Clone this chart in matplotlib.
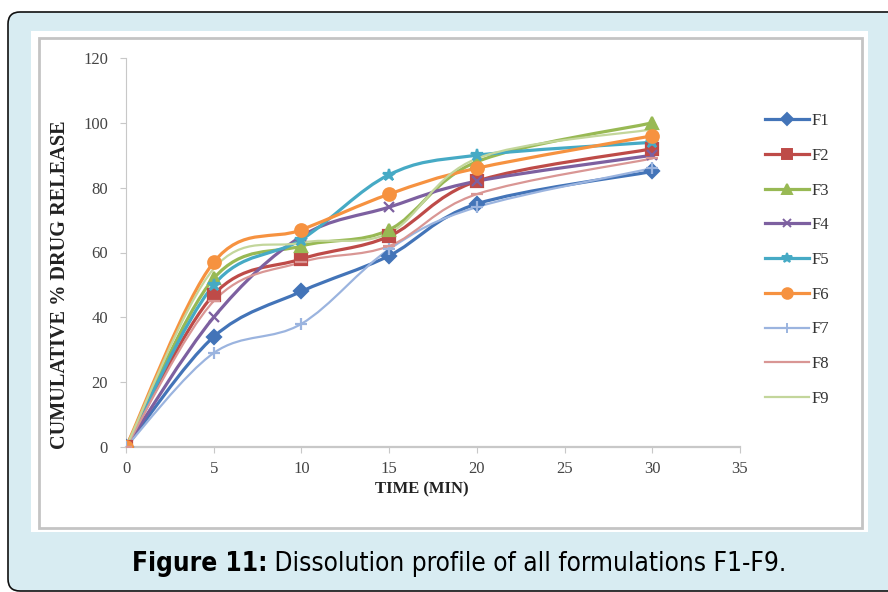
import numpy as np
import matplotlib
matplotlib.use("Agg")
import matplotlib.pyplot as plt
from matplotlib.patches import FancyBboxPatch, Rectangle, PathPatch
from matplotlib.path import Path
from matplotlib.lines import Line2D
from matplotlib import font_manager

# ---------------- data ----------------
time_min = [0, 5, 10, 15, 20, 30]
F1 = [0, 34, 48, 59, 75, 85]
F2 = [0, 47, 58, 65, 82, 92]
F3 = [0, 52, 62, 67, 88, 100]
F4 = [0, 40, 65, 74, 82, 90]
F5 = [0, 50, 64, 84, 90, 94]
F6 = [0, 57, 67, 78, 86, 96]
F7 = [0, 29, 38, 61, 74, 86]
F8 = [0, 45, 57, 62, 78, 89]
F9 = [0, 55, 63, 66, 89, 98]
series_names = ["F1", "F2", "F3", "F4", "F5", "F6", "F7", "F8", "F9"]
series_values = [F1, F2, F3, F4, F5, F6, F7, F8, F9]
x_ticks = [0, 5, 10, 15, 20, 25, 30, 35]
y_ticks = [0, 20, 40, 60, 80, 100, 120]

# style (excel like)
colors = ["#4374b8", "#be4b48", "#98b954", "#7d60a0", "#46aac5",
          "#f69240", "#9bb4df", "#d99694", "#c3d69b"]
markers = ["D", "s", "^", "x", "*", "o", "+", "_", None]
msizes = [7, 8, 8, 7, 9, 9, 8, 8, 0]
lwidths = [2.3, 2.3, 2.3, 2.3, 2.3, 2.3, 1.6, 1.6, 1.6]

serif = "Liberation Serif"
names = set(f.name for f in font_manager.fontManager.ttflist)
cap_font = "Liberation Sans Narrow" if "Liberation Sans Narrow" in names else "DejaVu Sans"


def smooth_path(xs, ys):
    # excel like smoothed line : cubic bezier through the points
    pts = np.column_stack([xs, ys]).astype(float)
    n = len(pts)
    verts = [pts[0]]
    codes = [Path.MOVETO]
    for i in range(n - 1):
        p0 = pts[i - 1] if i > 0 else pts[i]
        p1 = pts[i]
        p2 = pts[i + 1]
        p3 = pts[i + 2] if i + 2 < n else pts[i + 1]
        c1 = p1 + (p2 - p0) / 6.0
        c2 = p2 - (p3 - p1) / 6.0
        verts += [c1, c2, p2]
        codes += [Path.CURVE4] * 3
    return Path(verts, codes)


fig = plt.figure(figsize=(8.88, 5.92), dpi=100)
fig.patch.set_facecolor("white")

# outer light blue rounded box
box = FancyBboxPatch((0.08 + 0.12, 0.01 + 0.12), 9.0, 5.79 - 0.24,
                     boxstyle="round,pad=0.12", transform=fig.dpi_scale_trans,
                     facecolor="#d8ecf2", edgecolor="#111111", linewidth=1.2, zorder=-3)
fig.patches.append(box)
# white image panel
fig.patches.append(Rectangle((0.31, 0.60), 8.37, 5.01, transform=fig.dpi_scale_trans,
                             facecolor="white", edgecolor="none", zorder=-2))
fig.patches.append(Rectangle((0.39, 0.64), 8.23, 4.90, transform=fig.dpi_scale_trans,
                             facecolor="none", edgecolor="#c4c4c4", linewidth=2.0, zorder=-1))

ax = fig.add_axes([126 / 888, 1 - 447 / 592, (740 - 126) / 888, (447 - 58) / 592])
ax.set_facecolor("none")
ax.set_zorder(2)

for i, name in enumerate(series_names):
    vals = series_values[i]
    ax.add_patch(PathPatch(smooth_path(time_min, vals), facecolor="none",
                           edgecolor=colors[i], linewidth=lwidths[i],
                           capstyle="round", joinstyle="round", zorder=2 + i * 0.01))
    if markers[i] is not None:
        ax.plot(time_min, vals, linestyle="none", marker=markers[i], markersize=msizes[i],
                color=colors[i], markeredgecolor=colors[i], markeredgewidth=1.6, zorder=3)

ax.set_xlim(0, 35)
ax.set_ylim(0, 120)
ax.set_xticks(x_ticks)
ax.set_yticks(y_ticks)
for s in ["top", "right"]:
    ax.spines[s].set_visible(False)
ax.spines["left"].set_color("#c8c8c8")
ax.spines["bottom"].set_color("#c8c8c8")
ax.spines["bottom"].set_linewidth(1.6)
ax.tick_params(axis="both", direction="out", length=4, color="#c8c8c8",
               labelsize=12, labelcolor="#444444")
for lab in ax.get_xticklabels() + ax.get_yticklabels():
    lab.set_fontfamily(serif)
ax.tick_params(axis="y", pad=9)
ax.tick_params(axis="x", pad=6)

ax.set_ylabel("CUMULATIVE % DRUG RELEASE", fontfamily=serif, fontweight="bold",
              fontsize=14.6, color="#222222")
ax.yaxis.set_label_coords((70 - 126) / 614, (447 - 285) / 389)
ax.set_xlabel("TIME (MIN)", fontfamily=serif, fontweight="bold",
              fontsize=12, color="#222222")
ax.xaxis.set_label_coords((422 - 126) / 614, -(481 - 447) / 389)

# legend
handles = []
for i, name in enumerate(series_names):
    handles.append(Line2D([0], [0], color=colors[i], linewidth=lwidths[i],
                          marker=markers[i] if markers[i] else "None",
                          markersize=msizes[i] * 0.85, markeredgewidth=1.4,
                          markeredgecolor=colors[i], label=name))
leg = fig.legend(handles=handles, loc="upper left", bbox_to_anchor=(757 / 888, 1 - 105 / 592),
                 frameon=False, prop={"family": serif, "size": 12},
                 handlelength=2.6, handletextpad=0.15, labelspacing=1.12, borderpad=0)
leg.set_zorder(3)
for t in leg.get_texts():
    t.set_color("#333333")

# caption
renderer = fig.canvas.get_renderer()
t1 = fig.text(0, 0, "Figure 11:", fontfamily=cap_font, fontweight="bold", fontsize=18.8,
              fontstretch="condensed")
t2 = fig.text(0, 0, " Dissolution profile of all formulations F1-F9.",
              fontfamily=cap_font, fontsize=18.8, fontstretch="condensed")
w1 = t1.get_window_extent(renderer).width
w2 = t2.get_window_extent(renderer).width
x0 = 459 - (w1 + w2) / 2
t1.set_position((x0 / 888, 1 - 571 / 592))
t2.set_position(((x0 + w1) / 888, 1 - 571 / 592))

fig.savefig("out.png", dpi=100)
